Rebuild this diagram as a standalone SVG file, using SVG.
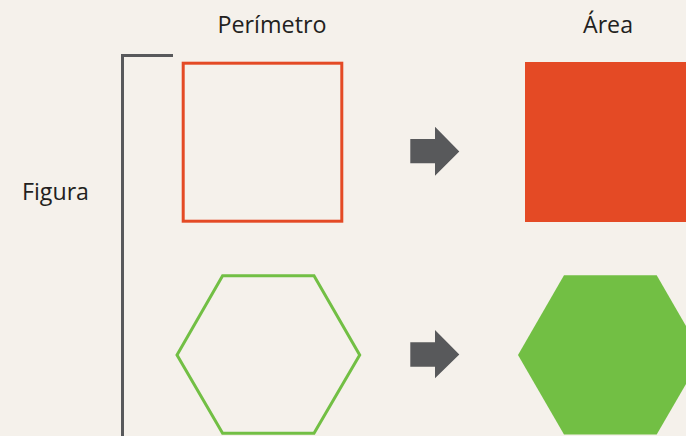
<svg xmlns="http://www.w3.org/2000/svg" width="686" height="436" viewBox="0 0 686 436">
<style>
text{font-family:"Open Sans","Liberation Sans",sans-serif;font-size:24px;fill:#231f20;text-anchor:middle}
.out{fill:none;stroke-width:3}
.arrow{fill:#58595b}
</style>
<rect width="686" height="436" fill="#f5f1eb"/>
<g id="header-perimetro"><text x="272" y="33" textLength="109" lengthAdjust="spacingAndGlyphs">Perímetro</text></g>
<g id="header-area"><text x="608" y="33" textLength="50" lengthAdjust="spacingAndGlyphs">Área</text></g>
<g id="label-figura"><text x="55.5" y="200" textLength="67" lengthAdjust="spacingAndGlyphs">Figura</text></g>
<g id="bracket"><path d="M173 55.5H122.5V436" fill="none" stroke="#58595b" stroke-width="3"/></g>
<g id="square-perimeter"><rect class="out" x="183.2" y="63.2" width="158.6" height="158" stroke="#e44a25"/></g>
<g id="square-area"><rect x="525" y="62" width="161" height="160" fill="#e44a25"/></g>
<g id="hex-perimeter"><polygon class="out" points="177,355 222.6,275.7 314,275.7 359.7,355 314,433.3 222.6,433.3" stroke="#72bf44"/></g>
<g id="hex-area"><polygon points="518,355 564,275.3 656.7,275.3 702.8,355 656.7,434.5 564,434.5" fill="#72bf44"/></g>
<g id="connectors">
<polygon class="arrow" points="410.3,139 435,139 435,126.7 459.3,151.5 435,175.7 435,163.3 410.3,163.3"/>
<polygon class="arrow" points="410.3,342.3 435,342.3 435,330 459.3,354.5 435,378.3 435,366.7 410.3,366.7"/>
</g>
</svg>
